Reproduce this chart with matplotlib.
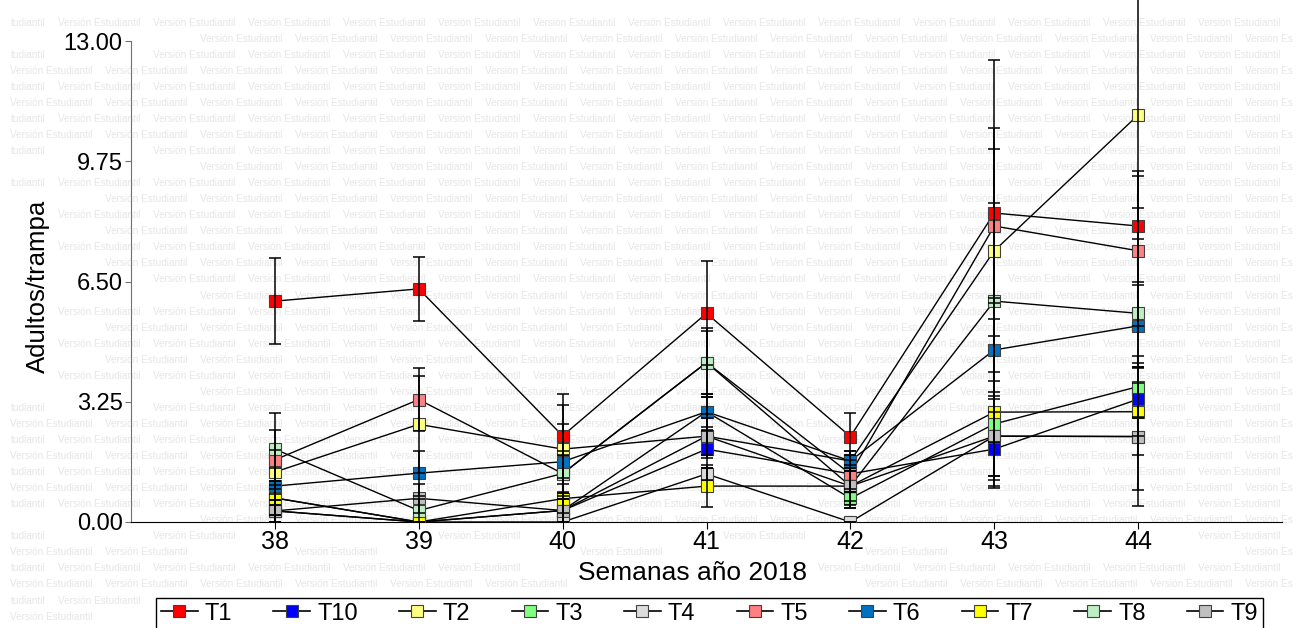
import matplotlib.pyplot as plt
from matplotlib.lines import Line2D
from matplotlib.ticker import FormatStrFormatter

plt.rcParams['font.family'] = ['Liberation Sans', 'DejaVu Sans']

# semanas de muestreo
weeks = [38, 39, 40, 41, 42, 43, 44]

# medias de adultos/trampa por tratamiento
t1 = [5.97, 6.30, 2.33, 5.64, 2.31, 8.35, 8.00]
t10 = [0.30, 0.00, 0.31, 1.97, 1.30, 1.97, 3.32]
t2 = [1.35, 2.64, 1.97, 2.32, 1.65, 7.33, 11.00]
t3 = [0.65, 0.00, 0.31, 2.98, 0.64, 2.65, 3.66]
t4 = [0.30, 0.00, 0.00, 1.30, 0.00, 2.32, 2.31]
t5 = [1.68, 3.31, 1.31, 4.31, 1.30, 8.00, 7.33]
t6 = [0.97, 1.32, 1.63, 2.98, 1.65, 4.65, 5.30]
t7 = [0.65, 0.00, 0.63, 0.97, 0.97, 2.97, 2.98]
t8 = [1.97, 0.31, 1.31, 4.31, 0.97, 5.97, 5.64]
t9 = [0.30, 0.64, 0.31, 2.32, 0.97, 2.32, 2.31]

# errores estandar
e1 = [1.17, 0.87, 1.13, 1.41, 0.63, 2.29, 1.50]
e10 = [0.30, 0.00, 0.31, 0.50, 0.50, 1.00, 0.99]
e2 = [0.60, 1.31, 1.19, 0.60, 0.28, 5.16, 3.36]
e3 = [0.45, 0.00, 0.31, 0.48, 0.25, 1.41, 0.83]
e4 = [0.30, 0.00, 0.00, 0.16, 0.00, 1.08, 1.88]
e5 = [0.80, 0.86, 0.50, 0.93, 0.50, 2.07, 2.02]
e6 = [0.50, 0.61, 1.02, 0.40, 0.28, 0.85, 1.10]
e7 = [0.45, 0.00, 0.40, 0.56, 0.50, 2.05, 1.17]
e8 = [0.98, 0.31, 0.60, 0.86, 0.58, 2.65, 2.84]
e9 = [0.30, 0.40, 0.31, 0.50, 0.40, 1.19, 1.45]

labels = ['T1', 'T10', 'T2', 'T3', 'T4', 'T5', 'T6', 'T7', 'T8', 'T9']
colors = ['#FF0000', '#0000FF', '#FFFF80', '#80FF80', '#DCDCDC',
          '#FF8080', '#0070C0', '#FFFF00', '#BDEFC4', '#C0C0C0']
means = [t1, t10, t2, t3, t4, t5, t6, t7, t8, t9]
errors = [e1, e10, e2, e3, e4, e5, e6, e7, e8, e9]

W, H = 1300, 628
fig = plt.figure(figsize=(W / 100, H / 100), dpi=100)
ax = fig.add_axes([131 / W, 106 / H, 1151 / W, 522 / H])
ax.patch.set_alpha(0)

# lineas, marcadores y barras de error
for m in means:
    ax.plot(weeks, m, color='black', lw=1, zorder=2)
for m, c in zip(means, colors):
    ax.plot(weeks, m, ls='none', marker='s', ms=9, mfc=c, mec='#404040',
            mew=0.8, zorder=3)
for m, e in zip(means, errors):
    ax.errorbar(weeks, m, yerr=e, fmt='none', ecolor='black', elinewidth=1.1,
                capsize=4.3, capthick=1.1, zorder=4)

ax.set_xlim(37, 45)
ax.set_ylim(0, 522 / 37)
ax.set_xticks(weeks)
ax.set_yticks([0, 3.25, 6.5, 9.75, 13])
ax.yaxis.set_major_formatter(FormatStrFormatter('%.2f'))
ax.spines['top'].set_visible(False)
ax.spines['right'].set_visible(False)
ax.spines['left'].set_bounds(0, 13)
ax.spines['left'].set_color('#707070')
ax.tick_params(axis='y', length=4, color='#707070', pad=2, labelsize=17)
ax.tick_params(axis='x', length=5, pad=1, labelsize=18)

ax.set_xlabel('Semanas año 2018', fontsize=19)
ax.xaxis.set_label_coords(0.488, -0.075)
ax.set_ylabel('Adultos/trampa', fontsize=18.5)
ax.yaxis.set_label_coords(-0.070, 0.451)

handles = [Line2D([], [], color='black', lw=1.2, marker='s', ms=9, mfc=c,
                  mec='#404040', mew=0.8) for c in colors]
leg = fig.legend(handles, labels, ncol=10, loc='upper center',
                 bbox_to_anchor=(709.5 / W, 1 - 598 / H), fontsize=17,
                 handlelength=1.55, handletextpad=0.3, columnspacing=1.75,
                 markerscale=0.95, fancybox=False, framealpha=1,
                 edgecolor='black', borderpad=0.2, borderaxespad=0)
leg.get_frame().set_linewidth(1)

# marca de agua "Versión Estudiantil" (por debajo de todo)
wm = []
for j in range(38):
    y = 1 - (22.7 + 16.05 * j) / H
    if j % 2 == 0:
        items = [(11, 'tudiantil')] + [(58 + 95 * k, 'Versión Estudiantil') for k in range(13)]
    else:
        items = [(10 + 95 * k, 'Versión Estudiantil') for k in range(13)] + [(1245, 'Versión Es')]
    for x, s in items:
        wm.append(fig.text(x / W, y, s, fontsize=7.2, color='#E6E6E6',
                           ha='left', va='center', zorder=-5))

# se omiten los fragmentos que quedan bajo los rotulos
fig.canvas.draw()
r = fig.canvas.get_renderer()
keep_clear = [t.get_window_extent(r) for t in ax.get_xticklabels() + ax.get_yticklabels()]
keep_clear += [ax.xaxis.label.get_window_extent(r), ax.yaxis.label.get_window_extent(r),
               leg.get_window_extent(r)]
for t in wm:
    bb = t.get_window_extent(r)
    if any(bb.overlaps(k) for k in keep_clear):
        t.remove()

plt.savefig('out.png', dpi=100)
plt.close()
